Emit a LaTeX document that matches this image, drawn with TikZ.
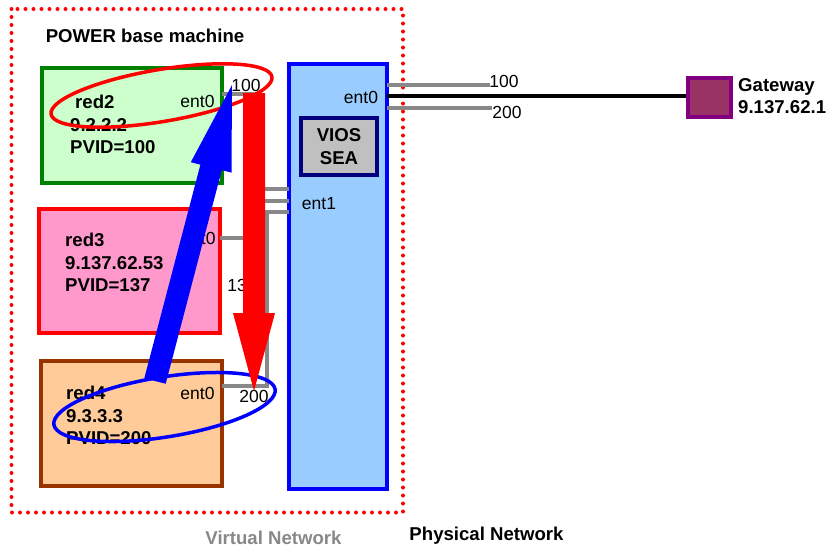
\documentclass[tikz,border=0pt]{standalone}
\usepackage{fontspec}
\setmainfont{Liberation Sans}
\usepackage{tikz}

\definecolor{vmgreen}{HTML}{CCFFCC}
\definecolor{vmgreenline}{HTML}{008000}
\definecolor{vmpink}{HTML}{FF99CC}
\definecolor{vmorange}{HTML}{FFCC99}
\definecolor{vmbrown}{HTML}{993300}
\definecolor{viosblue}{HTML}{99CCFF}
\definecolor{seagray}{HTML}{C0C0C0}
\definecolor{seaedge}{HTML}{000080}
\definecolor{gwfill}{HTML}{993366}
\definecolor{gwedge}{HTML}{800080}
\definecolor{wiregray}{HTML}{888888}

\begin{document}
\begin{tikzpicture}[x=1pt,y=-1pt,
	box/.style={draw,line width=4pt,inner sep=0pt},
	wire/.style={draw=wiregray,line width=4pt},
	big/.style={font=\fontsize{18.6}{22.5}\selectfont\bfseries,inner sep=0pt},
	small/.style={font=\fontsize{17.5}{21}\selectfont,inner sep=0pt},
	vmtext/.style={big,align=left,anchor=north west}]
		\fill[white] (0,0) rectangle (827,547);
		\useasboundingbox (0,0) rectangle (827,547);
		% virtual machines and VIOS
		\draw[red,line width=4pt,dash pattern=on 0pt off 8pt,line cap=round] (11.5,9) rectangle (403,512.5);
		\node[box,draw=vmgreenline,fill=vmgreen,minimum width=180pt,minimum height=115pt] (red2) at (131.5,125) {};
		\node[box,draw=red,fill=vmpink,minimum width=181pt,minimum height=124pt] (red3) at (129,270.5) {};
		\node[box,draw=vmbrown,fill=vmorange,minimum width=181pt,minimum height=125pt] (red4) at (131,423) {};
		\node[box,draw=blue,fill=viosblue,minimum width=98pt,minimum height=425pt] (vios) at (338,276.5) {};
		\node[box,draw=seaedge,fill=seagray,minimum width=76pt,minimum height=57pt,big,align=center] (sea) at (339,146.5) {VIOS\\SEA};
		\node[box,draw=gwedge,fill=gwfill,minimum width=43pt,minimum height=39pt] (gw) at (709,97) {};
		% wires
		\coordinate (r2port) at (221.5,94);
		\coordinate (r3port) at (219.5,238);
		\coordinate (r4port) at (221.5,385.5);
		\coordinate (e1a) at (289,189);
		\coordinate (e1b) at (289,201);
		\coordinate (e1c) at (289,212);
		\draw[wire] (r2port) -| (254,189) -- (e1a);
		\draw[wire] (r3port) -| (254,201) -- (e1b);
		\draw[wire] (r4port) -| (267,212) -- (e1c);
		\coordinate (v100) at (387,84.5);
		\coordinate (vent0) at (387,96);
		\coordinate (v200) at (387,108);
		\draw[wire] (v100) -- (490,84.5);
		\draw[wire] (v200) -- (492,108);
		\draw[line width=4pt] (vent0) -- (vent0 -| gw.west);
		% texts
		\node[big] (title) at (145,36) {POWER base machine};
		\node[vmtext] (red2txt) at (70,95) {\hspace*{5pt}red2\\9.2.2.2\\PVID=100};
		\node[vmtext] (red3txt) at (65,233) {red3\\9.137.62.53\\PVID=137};
		\node[vmtext] (red4txt) at (66,386) {red4\\9.3.3.3\\PVID=200};
		\node[small] (red2ent) at (197.5,101) {ent0};
		\node[small] (red3ent) at (198.5,238) {ent0};
		\node[small] (red4ent) at (197.5,393) {ent0};
		\node[small] (vl100) at (246,85) {100};
		\node[small] (vl137) at (242,285) {137};
		\node[small] (vl200) at (254,396) {200};
		\node[small] (viosent0) at (361,97) {ent0};
		\node[small] (viosent1) at (319,204) {ent1};
		\node[small] (pl100) at (504,81) {100};
		\node[small] (pl200) at (507,112) {200};
		\node[vmtext] (gwtxt) at (738,78) {Gateway\\9.137.62.1};
		\node[big,text=wiregray] (virt) at (273.5,538) {Virtual Network};
		\node[big] (phys) at (486.5,536) {Physical Network};
		% ellipses and traffic arrows
		\draw[red,line width=3.5pt,rotate around={9.6:(161.5,95.5)}] (161.5,95.5) ellipse [x radius=112pt,y radius=26pt];
		\draw[blue,line width=3.5pt,rotate around={9.1:(164.5,407)}] (164.5,407) ellipse [x radius=112pt,y radius=30pt];
		\fill[red] (243,93) -- (265,93) -- (265,313) -- (275,313) -- (254,391) -- (233,313) -- (243,313) -- cycle;
		\fill[blue] (144.3,378.3) -- (200.4,164.7) -- (190.8,162.2) -- (232,85) -- (231.5,172.6) -- (221.8,170.1) -- (165.7,383.7) -- cycle;
	\end{tikzpicture}
\end{document}
